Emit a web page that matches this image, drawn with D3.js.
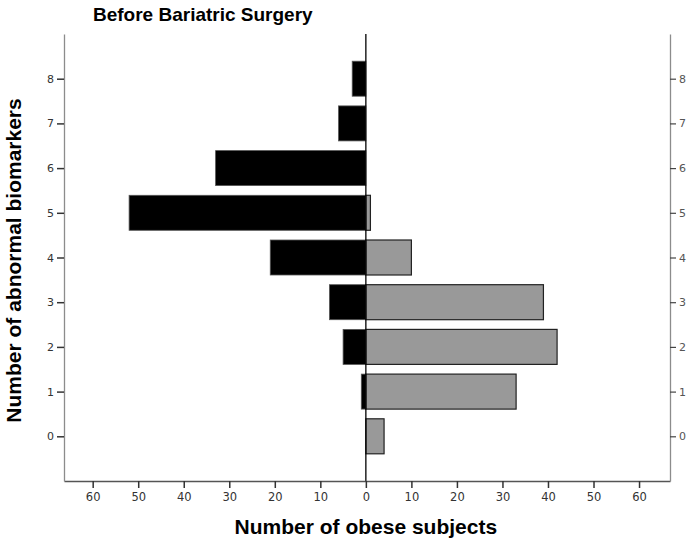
<!DOCTYPE html>
<html>
<head>
<meta charset="utf-8">
<script src="https://cdn.jsdelivr.net/npm/d3@7"></script>
<style>
  html, body { margin: 0; padding: 0; background: #fff; }
  svg { display: block; }
</style>
</head>
<body>
<svg id="chart" width="693" height="548"></svg>
<script>
// ---- data ----
const categories = [0, 1, 2, 3, 4, 5, 6, 7, 8];
const leftValues = [0, 1, 5, 8, 21, 52, 33, 6, 3];     // black bars (left side)
const rightValues = [4, 33, 42, 39, 10, 1, 0, 0, 0];   // gray bars (right side)
const xTickValues = [-60, -50, -40, -30, -20, -10, 0, 10, 20, 30, 40, 50, 60];
const titleText = "Before Bariatric Surgery";
const xTitle = "Number of obese subjects";
const yTitle = "Number of abnormal biomarkers";

// ---- layout ----
const svg = d3.select("#chart");
const L = 64, R = 670, T = 34, B = 481;

const x = d3.scaleLinear().domain([-66.3, 66.8]).range([L, R]);
const y = d3.scaleLinear().domain([-1, 9]).range([B, T]);
const barH = 35;

const axisColor = "#8c8c8c";
const tickColor = "#333";
const tickFont = "DejaVu Sans, sans-serif";

// left bars (black)
svg.append("g").selectAll("rect")
  .data(categories.map((c, i) => ({ c, v: leftValues[i] })).filter(d => d.v > 0))
  .join("rect")
  .attr("x", d => x(-d.v))
  .attr("width", d => x(0) - x(-d.v))
  .attr("y", d => y(d.c) - barH / 2)
  .attr("height", barH)
  .attr("fill", "#000")
  .attr("stroke", "#555")
  .attr("stroke-width", 0.8);

// right bars (gray)
svg.append("g").selectAll("rect")
  .data(categories.map((c, i) => ({ c, v: rightValues[i] })).filter(d => d.v > 0))
  .join("rect")
  .attr("x", x(0))
  .attr("width", d => x(d.v) - x(0))
  .attr("y", d => y(d.c) - barH / 2)
  .attr("height", barH)
  .attr("fill", "#999999")
  .attr("stroke", "#222")
  .attr("stroke-width", 1.2);

// center zero line
svg.append("line")
  .attr("x1", x(0)).attr("x2", x(0))
  .attr("y1", T).attr("y2", B)
  .attr("stroke", "#000").attr("stroke-width", 1.3);

// bottom axis
const xAxis = d3.axisBottom(x)
  .tickValues(xTickValues)
  .tickFormat(d => Math.abs(d))
  .tickSize(7)
  .tickPadding(5)
  .tickSizeOuter(0);
const gx = svg.append("g").attr("transform", `translate(0,${B})`).call(xAxis);
gx.select(".domain").attr("stroke", "#555").attr("stroke-width", 1.3);
gx.selectAll(".tick line").attr("stroke", "#333").attr("stroke-width", 1.5);
gx.selectAll(".tick text").attr("fill", tickColor).attr("font-family", tickFont).attr("font-size", 11.5);

// left axis
const yAxisL = d3.axisLeft(y).tickValues(categories).tickFormat(d3.format("d"))
  .tickSize(7).tickPadding(3).tickSizeOuter(0);
const gyl = svg.append("g").attr("transform", `translate(${L},0)`).call(yAxisL);
gyl.select(".domain").attr("stroke", axisColor).attr("stroke-width", 1.3);
gyl.selectAll(".tick line").attr("stroke", "#333").attr("stroke-width", 1.5);
gyl.selectAll(".tick text").attr("fill", tickColor).attr("font-family", tickFont).attr("font-size", 11);

// right axis
const yAxisR = d3.axisRight(y).tickValues(categories).tickFormat(d3.format("d"))
  .tickSize(6).tickPadding(3).tickSizeOuter(0);
const gyr = svg.append("g").attr("transform", `translate(${R},0)`).call(yAxisR);
gyr.select(".domain").attr("stroke", axisColor).attr("stroke-width", 1.3);
gyr.selectAll(".tick line").attr("stroke", "#444").attr("stroke-width", 1.2);
gyr.selectAll(".tick text").attr("fill", "#555").attr("font-family", tickFont).attr("font-size", 11);

// titles
svg.append("text")
  .attr("x", 93).attr("y", 21)
  .attr("font-family", "Liberation Sans, Arial, sans-serif")
  .attr("font-weight", "bold").attr("font-size", 19)
  .attr("fill", "#000")
  .text(titleText);

svg.append("text")
  .attr("x", x(0)).attr("y", 534)
  .attr("text-anchor", "middle")
  .attr("font-family", "Liberation Sans, Arial, sans-serif")
  .attr("font-weight", "bold").attr("font-size", 21)
  .attr("fill", "#000")
  .text(xTitle);

svg.append("text")
  .attr("transform", `translate(21,${(T + 481) / 2 + 3}) rotate(-90)`)
  .attr("text-anchor", "middle")
  .attr("font-family", "Liberation Sans, Arial, sans-serif")
  .attr("font-weight", "bold").attr("font-size", 21)
  .attr("fill", "#000")
  .text(yTitle);
</script>
</body>
</html>
